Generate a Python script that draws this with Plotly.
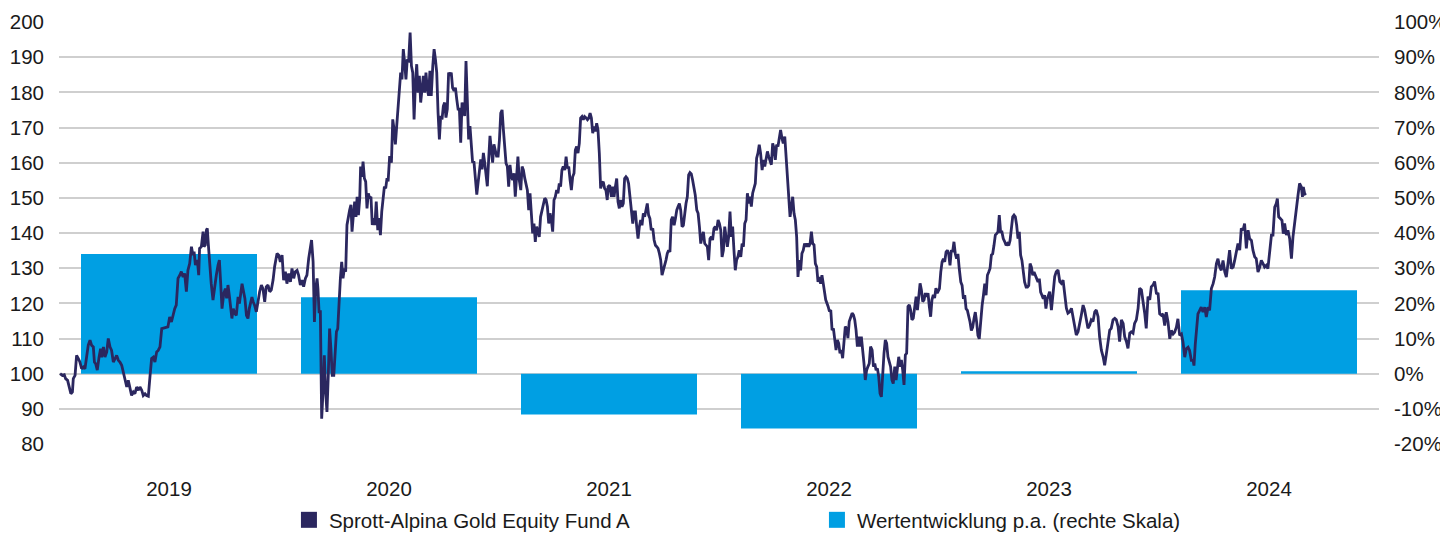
import plotly.graph_objects as go

# ---- data ----
years = ["2019", "2020", "2021", "2022", "2023", "2024"]
annual_return = [0.340, 0.217, -0.116, -0.156, 0.007, 0.237]

fund_t = [
    2019.005, 2019.015, 2019.024, 2019.030, 2019.039, 2019.047, 2019.054, 2019.061, 2019.065, 2019.073,
    2019.080, 2019.088, 2019.095, 2019.103, 2019.111, 2019.118, 2019.126, 2019.133, 2019.141, 2019.148,
    2019.156, 2019.161, 2019.167, 2019.174, 2019.182, 2019.189, 2019.194, 2019.202, 2019.209, 2019.217,
    2019.224, 2019.232, 2019.239, 2019.247, 2019.255, 2019.262, 2019.270, 2019.277, 2019.285, 2019.292,
    2019.297, 2019.303, 2019.308, 2019.315, 2019.323, 2019.330, 2019.338, 2019.345, 2019.353, 2019.361,
    2019.368, 2019.376, 2019.383, 2019.391, 2019.398, 2019.406, 2019.414, 2019.421, 2019.429, 2019.436,
    2019.444, 2019.451, 2019.459, 2019.467,
    2019.495, 2019.503, 2019.511, 2019.518, 2019.526, 2019.533, 2019.541, 2019.549, 2019.556, 2019.564,
    2019.571, 2019.579, 2019.586, 2019.594, 2019.602, 2019.609, 2019.614, 2019.620, 2019.629, 2019.635,
    2019.639, 2019.647, 2019.655, 2019.659, 2019.665, 2019.670, 2019.674, 2019.679, 2019.685, 2019.692,
    2019.700, 2019.708, 2019.715, 2019.723, 2019.729, 2019.735, 2019.741, 2019.749, 2019.756, 2019.762,
    2019.768, 2019.774, 2019.780, 2019.786, 2019.792, 2019.799, 2019.806, 2019.814, 2019.820, 2019.826,
    2019.832, 2019.839, 2019.845, 2019.852, 2019.859, 2019.865, 2019.871, 2019.877, 2019.883, 2019.889,
    2019.897, 2019.905, 2019.912, 2019.920, 2019.927, 2019.935, 2019.942, 2019.950, 2019.958, 2019.965,
    2019.973, 2019.980, 2019.988,
    2019.991, 2019.999, 2020.006, 2020.014, 2020.021, 2020.029, 2020.036, 2020.044, 2020.052, 2020.059,
    2020.067, 2020.074, 2020.082, 2020.089, 2020.097, 2020.105, 2020.112, 2020.120, 2020.127, 2020.135,
    2020.142, 2020.148, 2020.155, 2020.161, 2020.167, 2020.173, 2020.177, 2020.182, 2020.188, 2020.194,
    2020.200, 2020.206, 2020.212, 2020.218, 2020.224, 2020.230, 2020.236, 2020.242, 2020.249, 2020.255,
    2020.261, 2020.267, 2020.273, 2020.279, 2020.285, 2020.291, 2020.297, 2020.303, 2020.309, 2020.315,
    2020.321, 2020.327, 2020.332, 2020.338, 2020.344, 2020.350, 2020.355, 2020.361, 2020.367, 2020.371,
    2020.377, 2020.382, 2020.388, 2020.394, 2020.400, 2020.406, 2020.412, 2020.418, 2020.424, 2020.430,
    2020.436, 2020.442, 2020.449, 2020.455, 2020.461, 2020.467, 2020.473, 2020.479, 2020.485, 2020.491,
    2020.496, 2020.503, 2020.511, 2020.517, 2020.523, 2020.529, 2020.535, 2020.541, 2020.549, 2020.553,
    2020.559, 2020.565, 2020.571, 2020.577, 2020.583, 2020.589, 2020.596, 2020.602, 2020.608, 2020.614,
    2020.620, 2020.626, 2020.632, 2020.638, 2020.644, 2020.650, 2020.656, 2020.662, 2020.668, 2020.674,
    2020.680, 2020.686, 2020.692, 2020.699, 2020.705, 2020.711, 2020.717, 2020.723, 2020.729, 2020.735,
    2020.741, 2020.747, 2020.753, 2020.759, 2020.765, 2020.771, 2020.777, 2020.783, 2020.789, 2020.796,
    2020.802, 2020.808, 2020.814, 2020.820, 2020.826, 2020.832, 2020.838, 2020.844, 2020.850, 2020.856,
    2020.862, 2020.868, 2020.874, 2020.880, 2020.886, 2020.892, 2020.899, 2020.905, 2020.911, 2020.917,
    2020.923, 2020.929, 2020.935, 2020.941, 2020.947, 2020.953, 2020.959, 2020.965, 2020.971, 2020.977,
    2020.983, 2020.989, 2020.996,
    2021.002, 2021.008, 2021.014, 2021.020, 2021.026, 2021.032, 2021.038, 2021.044, 2021.050, 2021.056,
    2021.062, 2021.068, 2021.074, 2021.080, 2021.086, 2021.092, 2021.099, 2021.105, 2021.111, 2021.117,
    2021.123, 2021.129, 2021.135, 2021.141, 2021.147, 2021.153, 2021.159, 2021.165, 2021.171, 2021.177,
    2021.183, 2021.189, 2021.196, 2021.202, 2021.208, 2021.214, 2021.220, 2021.226, 2021.232, 2021.238,
    2021.244, 2021.250, 2021.256, 2021.262, 2021.268, 2021.274, 2021.280, 2021.286, 2021.292, 2021.299,
    2021.305, 2021.311, 2021.317, 2021.323, 2021.329, 2021.335, 2021.341, 2021.347, 2021.353, 2021.359,
    2021.365, 2021.371, 2021.377, 2021.383, 2021.389, 2021.396, 2021.402, 2021.408, 2021.414, 2021.420,
    2021.426, 2021.432, 2021.438, 2021.444, 2021.450, 2021.456, 2021.462, 2021.468, 2021.474, 2021.480,
    2021.486, 2021.492,
    2021.496, 2021.503, 2021.511, 2021.517, 2021.523, 2021.529, 2021.535, 2021.541, 2021.547, 2021.553,
    2021.559, 2021.565, 2021.571, 2021.577, 2021.583, 2021.589, 2021.596, 2021.602, 2021.608, 2021.614,
    2021.620, 2021.626, 2021.632, 2021.638, 2021.644, 2021.650, 2021.656, 2021.662, 2021.668, 2021.674,
    2021.680, 2021.686, 2021.692, 2021.699, 2021.705, 2021.711, 2021.717, 2021.723, 2021.729, 2021.735,
    2021.741, 2021.747, 2021.753, 2021.759, 2021.765, 2021.771, 2021.777, 2021.783, 2021.789, 2021.796,
    2021.802, 2021.808, 2021.814, 2021.820, 2021.826, 2021.832, 2021.838, 2021.844, 2021.850, 2021.856,
    2021.862, 2021.868, 2021.874, 2021.880, 2021.886, 2021.892, 2021.899, 2021.905, 2021.911, 2021.917,
    2021.923, 2021.929, 2021.935, 2021.941, 2021.947, 2021.953, 2021.959, 2021.965, 2021.971, 2021.977,
    2021.983, 2021.989, 2021.996,
    2022.002, 2022.008, 2022.014, 2022.020, 2022.026, 2022.032, 2022.038, 2022.044, 2022.050, 2022.056,
    2022.062, 2022.068, 2022.074, 2022.080, 2022.086, 2022.092, 2022.099, 2022.105, 2022.111, 2022.117,
    2022.123, 2022.129, 2022.135, 2022.141, 2022.147, 2022.153, 2022.159, 2022.165, 2022.171, 2022.177,
    2022.183, 2022.189, 2022.196, 2022.202, 2022.208, 2022.214, 2022.220, 2022.226, 2022.232, 2022.238,
    2022.244, 2022.250, 2022.256, 2022.262, 2022.268, 2022.274, 2022.280, 2022.286, 2022.292, 2022.299,
    2022.305, 2022.311, 2022.317, 2022.323, 2022.329, 2022.335, 2022.341, 2022.347, 2022.353, 2022.359,
    2022.365, 2022.371, 2022.377, 2022.383, 2022.389, 2022.396, 2022.402, 2022.408, 2022.414, 2022.420,
    2022.426, 2022.432, 2022.438, 2022.444, 2022.450, 2022.456, 2022.462, 2022.468, 2022.474, 2022.485,
    2022.496, 2022.502, 2022.508, 2022.514, 2022.520, 2022.526, 2022.532, 2022.538, 2022.544, 2022.550,
    2022.556, 2022.562, 2022.568, 2022.574, 2022.580, 2022.586, 2022.592, 2022.599, 2022.605, 2022.611,
    2022.617, 2022.623, 2022.629, 2022.635, 2022.641, 2022.647, 2022.653, 2022.659, 2022.665, 2022.671,
    2022.677, 2022.683, 2022.689, 2022.696, 2022.702, 2022.708, 2022.714, 2022.720, 2022.726, 2022.732,
    2022.738, 2022.744, 2022.750, 2022.756, 2022.762, 2022.768, 2022.774, 2022.780, 2022.786, 2022.792,
    2022.799, 2022.805, 2022.811, 2022.817, 2022.823, 2022.829, 2022.835, 2022.841, 2022.847, 2022.853,
    2022.859, 2022.865, 2022.871, 2022.877, 2022.883, 2022.889, 2022.896, 2022.902, 2022.908, 2022.914,
    2022.920, 2022.926, 2022.932, 2022.938, 2022.944, 2022.950, 2022.956, 2022.962, 2022.968, 2022.974,
    2022.980, 2022.986, 2022.992,
    2023.002, 2023.008, 2023.014, 2023.020, 2023.026, 2023.032, 2023.038, 2023.044, 2023.050, 2023.056,
    2023.062, 2023.068, 2023.074, 2023.080, 2023.086, 2023.092, 2023.099, 2023.105, 2023.111, 2023.117,
    2023.123, 2023.129, 2023.135, 2023.141, 2023.147, 2023.153, 2023.159, 2023.165, 2023.171, 2023.177,
    2023.183, 2023.189, 2023.196, 2023.202, 2023.208, 2023.214, 2023.220, 2023.226, 2023.232, 2023.238,
    2023.244, 2023.250, 2023.256, 2023.262, 2023.268, 2023.274, 2023.280, 2023.286, 2023.292, 2023.299,
    2023.305, 2023.311, 2023.317, 2023.323, 2023.329, 2023.335, 2023.341, 2023.347, 2023.353, 2023.359,
    2023.365, 2023.371, 2023.377, 2023.383, 2023.389, 2023.396, 2023.402, 2023.408, 2023.414, 2023.420,
    2023.426, 2023.432, 2023.438, 2023.444, 2023.450, 2023.456, 2023.462, 2023.468, 2023.474, 2023.480,
    2023.486, 2023.492,
    2023.496, 2023.503, 2023.511, 2023.518, 2023.526, 2023.533, 2023.541, 2023.549, 2023.556, 2023.564,
    2023.571, 2023.579, 2023.586, 2023.594, 2023.602, 2023.609, 2023.617, 2023.624, 2023.632, 2023.639,
    2023.647, 2023.655, 2023.662, 2023.670, 2023.677, 2023.685, 2023.692, 2023.700, 2023.708, 2023.715,
    2023.723, 2023.730, 2023.738, 2023.746, 2023.753, 2023.761, 2023.768, 2023.776, 2023.783, 2023.791,
    2023.799, 2023.806, 2023.814, 2023.821, 2023.829, 2023.837, 2023.844, 2023.852, 2023.859, 2023.867,
    2023.874, 2023.882, 2023.889, 2023.897, 2023.905, 2023.912, 2023.920, 2023.927, 2023.935, 2023.942,
    2023.950, 2023.958, 2023.965, 2023.973, 2023.980, 2023.988,
    2023.996, 2024.003, 2024.011, 2024.018, 2024.026, 2024.033, 2024.041, 2024.049, 2024.056, 2024.064,
    2024.071, 2024.079, 2024.086, 2024.094, 2024.102, 2024.109, 2024.117, 2024.124, 2024.132, 2024.139,
    2024.147, 2024.155, 2024.159, 2024.165, 2024.171, 2024.177, 2024.185, 2024.192, 2024.200, 2024.208,
    2024.215, 2024.223, 2024.230, 2024.238, 2024.246, 2024.253, 2024.261, 2024.268, 2024.276, 2024.283,
    2024.291, 2024.299, 2024.306, 2024.314, 2024.321, 2024.329, 2024.337, 2024.344, 2024.352, 2024.359,
    2024.367, 2024.374, 2024.382, 2024.389, 2024.397, 2024.405, 2024.412, 2024.420, 2024.427, 2024.435,
    2024.442, 2024.450, 2024.458, 2024.465, 2024.473, 2024.480, 2024.488, 2024.495, 2024.503, 2024.511,
    2024.518, 2024.526, 2024.533, 2024.538, 2024.544, 2024.552, 2024.559, 2024.565, 2024.571, 2024.579,
    2024.586, 2024.594, 2024.602, 2024.609, 2024.617, 2024.624, 2024.632, 2024.639, 2024.647, 2024.652,
    2024.656, 2024.662, 2024.667,
]

fund_value = [
    100.0, 99.5, 99.7, 98.6, 98.1, 96.2, 94.3, 94.8, 98.6, 99.5,
    105.2, 104.3, 103.3, 101.4, 101.9, 101.4, 105.2, 108.1, 109.5, 108.1,
    107.6, 103.3, 102.8, 101.0, 104.7, 107.1, 104.7, 107.6, 104.7, 106.2,
    110.0, 107.6, 106.6, 103.3, 104.3, 105.2, 103.8, 103.3, 102.4, 100.5,
    98.6, 97.2, 96.2, 98.1, 95.3, 93.8, 94.8, 94.3, 96.2, 95.3,
    96.2, 95.3, 93.8, 94.3, 93.8, 93.6, 99.5, 104.3, 104.7, 103.3,
    106.2, 106.6, 107.6, 112.8,
    113.3, 116.1, 114.7, 116.6, 118.5, 119.5, 127.1, 128.0, 129.0, 127.5,
    128.5, 123.3, 129.4, 131.3, 136.1, 133.7, 134.7, 130.9, 132.3, 128.0,
    135.6, 136.1, 140.4, 136.1, 136.6, 140.8, 141.3, 136.6, 130.4, 125.6,
    120.9, 125.2, 128.0, 130.9, 132.3, 125.6, 118.5, 122.8, 124.2, 121.4,
    125.2, 122.3, 119.5, 115.7, 118.5, 117.1, 116.6, 121.8, 119.9, 122.3,
    125.6, 123.3, 121.4, 116.6, 115.7, 118.5, 119.9, 121.8, 120.4, 119.5,
    117.6, 121.4, 123.3, 125.2, 124.2, 120.4, 124.7, 125.2, 123.3, 123.8,
    126.6, 130.4, 133.2,
    134.2, 133.7, 131.8, 133.7, 126.6, 129.0, 125.6, 128.5, 126.1, 129.9,
    127.1, 129.0, 129.4, 128.0, 125.2, 126.6, 124.7, 127.1, 128.0, 132.8,
    136.1, 138.0, 131.8, 114.7, 124.2, 127.1, 124.2, 117.6, 117.6, 87.2,
    94.8, 105.2, 94.8, 89.1, 99.5, 112.8, 107.1, 99.5, 99.5, 105.2,
    111.9, 112.8, 122.3, 127.1, 131.8, 127.1, 129.9, 129.0, 142.3, 145.1,
    146.5, 148.0, 140.4, 145.1, 148.9, 144.6, 150.3, 145.1, 149.9, 158.9,
    156.0, 160.3, 155.6, 154.6, 147.0, 151.3, 149.9, 150.3, 142.3, 144.2,
    142.3, 148.9, 140.8, 144.2, 139.4, 146.1, 150.8, 153.2, 152.7, 155.6,
    154.7, 161.9, 160.0, 172.3, 169.5, 165.2, 170.4, 176.1, 181.8, 185.6,
    183.7, 192.3, 188.5, 183.7, 189.4, 188.5, 197.0, 187.5, 185.6, 172.3,
    182.3, 188.0, 179.9, 184.7, 177.1, 181.8, 184.7, 179.9, 185.6, 180.9,
    179.0, 186.1, 179.0, 187.5, 192.3, 189.4, 185.6, 174.2, 166.6, 173.3,
    172.3, 176.1, 177.1, 172.8, 175.2, 185.6, 184.7, 185.6, 181.3, 180.4,
    181.3, 178.0, 175.2, 175.2, 165.7, 177.1, 175.2, 173.3, 188.9, 179.9,
    166.6, 170.4, 165.7, 160.0, 160.4, 156.2, 150.9, 154.3, 158.1, 160.9,
    158.1, 162.8, 160.0, 156.2, 153.3, 160.9, 167.6, 163.8, 160.0, 165.2,
    163.8, 161.9, 161.9,
    166.5, 174.1, 175.0, 169.3, 162.7, 159.8, 158.9, 153.2, 159.4, 156.0,
    155.1, 157.0, 150.3, 157.9, 161.7, 155.1, 152.2, 158.9, 157.9, 155.6,
    154.1, 152.2, 146.5, 151.3, 145.6, 139.9, 142.7, 137.5, 141.8, 140.4,
    138.9, 144.6, 146.5, 148.4, 149.9, 149.4, 147.5, 142.7, 145.6, 143.7,
    140.4, 149.4, 150.3, 152.2, 151.3, 154.1, 153.2, 157.9, 158.9, 157.9,
    161.7, 158.4, 158.9, 155.1, 152.2, 156.0, 157.0, 163.6, 164.6, 162.7,
    165.5, 172.7, 173.1, 172.2, 173.1, 172.7, 172.2, 172.7, 174.1, 172.7,
    168.4, 170.3, 168.9, 171.2, 169.3, 162.7, 152.7, 154.1, 154.6, 152.7,
    152.2, 149.4,
    153.2, 153.6, 150.3, 153.2, 150.3, 153.2, 155.5, 148.9, 147.0, 149.4,
    147.5, 148.4, 155.5, 156.0, 155.5, 154.1, 149.4, 147.0, 142.7, 146.0,
    146.0, 141.8, 138.4, 141.8, 143.7, 142.2, 145.6, 144.6, 147.0, 148.4,
    145.1, 144.1, 140.8, 141.3, 138.0, 136.5, 136.1, 135.6, 134.2, 132.3,
    128.0, 129.4, 130.4, 132.3, 134.2, 135.1, 134.6, 143.7, 144.6, 142.2,
    144.1, 146.5, 147.5, 148.4, 146.5, 141.8, 142.2, 146.5, 148.4, 150.3,
    156.5, 157.2, 156.8, 155.1, 152.7, 150.8, 146.5, 145.6, 141.8, 137.0,
    138.9, 140.3, 137.0, 136.5, 136.1, 132.3, 138.4, 138.9, 138.0, 141.3,
    141.8, 140.8, 143.7,
    142.7, 140.8, 133.2, 135.1, 141.8, 138.0, 136.1, 138.9, 146.1, 138.9,
    141.8, 135.1, 129.4, 132.3, 133.2, 135.1, 133.2, 137.0, 136.1, 142.7,
    143.7, 151.3, 148.4, 150.3, 147.5, 151.3, 153.2, 154.1, 161.3, 162.7,
    165.1, 162.7, 157.9, 160.8, 158.9, 161.7, 163.2, 161.7, 160.8, 159.4,
    165.5, 164.1, 160.8, 165.1, 164.6, 167.4, 169.3, 167.0, 165.5, 167.4,
    160.8, 154.1, 150.3, 144.6, 147.5, 150.3, 145.6, 143.7, 138.9, 127.5,
    132.3, 129.4, 134.2, 135.1, 137.0, 136.1, 137.0, 136.1, 137.0, 140.4,
    137.0, 136.6, 131.3, 130.4, 126.1, 127.5, 125.6, 128.0, 125.6, 121.0,
    119.1, 117.7, 118.1, 112.4, 112.9, 109.6, 106.7, 109.6, 108.6, 105.8,
    106.7, 104.4, 109.6, 113.4, 112.9, 110.1, 114.8, 116.2, 117.2, 116.7,
    115.3, 112.4, 107.7, 110.5, 107.7, 110.5, 105.3, 102.9, 98.2, 101.0,
    102.0, 102.9, 107.7, 106.7, 102.0, 102.9, 101.0, 101.5, 99.1, 94.4,
    93.4, 100.1, 105.8, 109.6, 108.6, 104.8, 102.9, 102.0, 98.2, 97.2,
    102.0, 98.2, 101.5, 104.8, 102.0, 103.9, 101.0, 96.8, 105.3, 105.8,
    119.1, 119.6, 118.1, 115.3, 115.8, 119.1, 121.9, 118.1, 122.9, 125.7,
    123.8, 120.5, 121.0, 122.9, 121.9, 122.9, 119.1, 116.2, 121.0, 122.4,
    121.5, 124.3, 122.9,
    124.2, 128.9, 131.8, 132.7, 131.8, 134.6, 135.1, 134.1, 130.8, 135.1,
    134.6, 137.5, 134.1, 132.7, 134.1, 129.9, 126.1, 125.1, 121.3, 122.3,
    118.5, 118.0, 116.6, 114.7, 112.3, 113.2, 115.6, 117.5, 114.7, 110.9,
    109.9, 114.7, 119.4, 122.3, 125.6, 122.3, 128.0, 128.9, 129.9, 133.7,
    134.1, 136.5, 139.4, 139.8, 140.3, 145.1, 140.3, 140.3, 138.4, 137.5,
    136.5, 137.0, 136.5, 137.9, 141.3, 144.6, 145.1, 144.6, 142.2, 138.4,
    140.3, 133.7, 132.2, 128.9, 126.1, 124.6, 124.6, 125.1, 131.3, 130.3,
    128.0, 128.9, 128.0, 127.0, 126.1, 127.0, 123.2, 122.3, 121.3, 122.3,
    118.5, 121.3,
    121.9, 123.3, 118.1, 122.4, 127.6, 129.0, 129.5, 126.2, 125.7, 126.6,
    121.9, 118.6, 117.2, 117.6, 118.6, 116.2, 113.8, 111.0, 111.9, 113.8,
    116.7, 119.5, 118.1, 115.3, 112.9, 113.8, 115.3, 114.8, 117.6, 118.1,
    116.2, 110.5, 106.7, 104.8, 102.4, 105.7, 108.6, 112.4, 112.9, 115.3,
    115.7, 115.3, 113.4, 109.1, 115.3, 114.3, 110.5, 109.1, 107.2, 111.5,
    111.9, 111.5, 114.3, 115.3, 118.6, 124.3, 123.8, 121.0, 117.2, 112.9,
    121.9, 121.0, 124.7, 125.2, 126.2, 122.9,
    122.7, 117.0, 116.6, 117.0, 113.7, 117.5, 114.7, 109.9, 112.3, 111.3,
    111.8, 113.2, 115.6, 110.9, 111.3, 109.0, 104.7, 107.1, 107.5, 106.6,
    103.8, 103.8, 102.3, 108.5, 112.3, 117.0, 118.0, 118.9, 117.5, 118.9,
    116.1, 118.9, 118.0, 124.2, 125.6, 127.5, 131.3, 132.7, 130.3, 129.4,
    132.2, 128.9, 127.5, 132.2, 135.1, 129.9, 130.3, 132.2, 134.6, 137.0,
    135.1, 141.3, 140.8, 142.7, 135.6, 140.8, 138.4, 137.9, 135.1, 133.2,
    132.7, 128.9, 130.3, 132.2, 131.3, 130.3, 130.8, 129.9, 134.6, 139.4,
    139.4, 147.4, 148.4, 149.8, 144.6, 144.1, 143.6, 139.8, 142.7, 139.4,
    140.8, 138.4, 132.7, 138.9, 143.6, 147.4, 150.8, 154.1, 153.1, 150.3,
    153.1, 151.2, 150.8,
]

left_ticks = [80, 90, 100, 110, 120, 130, 140, 150, 160, 170, 180, 190, 200]
right_tickvals = [-0.2, -0.1, 0.0, 0.1, 0.2, 0.3, 0.4, 0.5, 0.6, 0.7, 0.8, 0.9, 1.0]
right_ticktext = ["-20%", "-10%", "0%", "10%", "20%", "30%", "40%", "50%",
                  "60%", "70%", "80%", "90%", "100%"]

fund_name = "Sprott-Alpina Gold Equity Fund A"
bar_name = "Wertentwicklung p.a. (rechte Skala)"

LINE_COLOR = "#2b275f"
BAR_COLOR = "#009fe3"
FONT = "Liberation Sans, Arial, sans-serif"
TXT = "#1a1a1a"
FS = 20.5

fig = go.Figure()

fig.add_trace(go.Bar(
    x=years, y=annual_return, xaxis="x", yaxis="y",
    marker=dict(color=BAR_COLOR, line=dict(width=0)),
    showlegend=False, name=bar_name,
))

fig.add_trace(go.Scatter(
    x=fund_t, y=fund_value, xaxis="x2", yaxis="y2", mode="lines",
    line=dict(color=LINE_COLOR, width=2.8),
    showlegend=False, name=fund_name,
))

# legend entries (square symbols)
fig.add_trace(go.Scatter(
    x=[None], y=[None], mode="markers", name=fund_name,
    marker=dict(symbol="square", size=16, color=LINE_COLOR),
    xaxis="x", yaxis="y",
))
fig.add_trace(go.Scatter(
    x=[None], y=[None], mode="markers", name=bar_name,
    marker=dict(symbol="square", size=16, color=BAR_COLOR),
    xaxis="x", yaxis="y",
))

fig.update_layout(
    width=1448, height=533,
    margin=dict(l=51, r=77, t=14, b=97, pad=0),
    paper_bgcolor="white", plot_bgcolor="white",
    font=dict(family=FONT, size=FS, color=TXT),
    bargap=0.2,
    xaxis=dict(
        type="category", categoryorder="array", categoryarray=years,
        range=[-0.5, 5.5], showgrid=False, zeroline=False, showline=False,
        ticks="", ticklabelstandoff=30, tickfont=dict(size=FS, color=TXT),
        automargin=False,
    ),
    xaxis2=dict(
        overlaying="x", range=[2019, 2025], visible=False, automargin=False,
    ),
    yaxis=dict(
        side="right", range=[-0.2, 1.0], tickvals=right_tickvals, ticktext=right_ticktext,
        showgrid=True, gridcolor="#cfcfcf", gridwidth=1.5, zeroline=False,
        showline=False, ticks="", ticklabelstandoff=14,
        tickfont=dict(size=FS, color=TXT), automargin=False,
    ),
    yaxis2=dict(
        overlaying="y", side="left", range=[80, 200], tickvals=left_ticks,
        showgrid=False, zeroline=False, showline=False, ticks="",
        ticklabelstandoff=14, tickfont=dict(size=FS, color=TXT), automargin=False,
    ),
    legend=dict(
        orientation="h", xref="paper", x=0.1742, xanchor="left",
        yref="container", y=0.0394, yanchor="middle",
        font=dict(size=FS, color=TXT), entrywidth=483, entrywidthmode="pixels",
        bgcolor="rgba(0,0,0,0)", itemclick=False, itemdoubleclick=False,
    ),
)

fig.write_html("out.html")
